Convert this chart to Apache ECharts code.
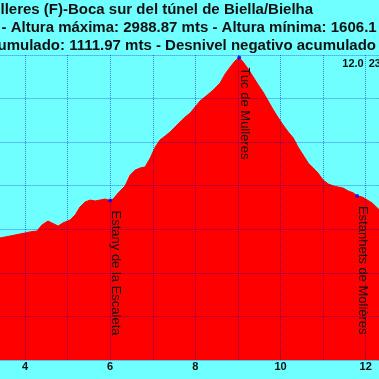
<!DOCTYPE html>
<html><head><meta charset="utf-8">
<script src="https://cdn.jsdelivr.net/npm/echarts@6/dist/echarts.min.js"></script>
<style>html,body{margin:0;padding:0;background:#70ffff;overflow:hidden;width:379px;height:379px;position:relative}#c{position:absolute;left:-40px;top:0;width:460px;height:379px}</style>
</head><body><div id="c"></div>
<script>
// Distance along route (km)
const distanceKm = [3.20,3.41,3.65,4.00,4.12,4.28,4.40,4.54,4.63,4.78,4.89,5.06,5.18,5.29,5.41,5.53,5.65,5.76,5.88,6.00,6.07,6.19,6.35,6.47,6.59,6.70,6.82,6.94,7.06,7.17,7.29,7.41,7.52,7.64,7.76,7.88,8.11,8.28,8.42,8.58,8.70,8.82,8.93,9.03,9.12,9.24,9.36,9.48,9.59,9.71,9.83,9.95,10.06,10.18,10.30,10.41,10.53,10.65,10.77,10.88,11.00,11.12,11.24,11.35,11.47,11.59,11.71,11.80,11.92,12.04,12.15,12.32,12.50];
// Elevation (m)
const elevationM = [2150,2160,2169,2183,2188,2192,2220,2238,2229,2215,2229,2243,2266,2302,2325,2334,2330,2334,2339,2332,2339,2367,2399,2449,2472,2481,2486,2527,2578,2610,2628,2647,2669,2692,2715,2734,2789,2816,2839,2871,2913,2945,2972,2988.87,2968,2936,2899,2862,2830,2789,2748,2711,2679,2647,2619,2578,2541,2504,2481,2458,2426,2408,2399,2394,2389,2376,2367,2353,2348,2334,2321,2289,2260];
// Waypoints
const waypointNames = ['Estany de la Escaleta','Tuc de Mulleres','Estanhets de Molières'];
const waypointKm = [6.00, 9.03, 11.80];
const waypointElev = [2332, 2988.87, 2353];
// Axis settings / tick labels
const xMin = 3, xMax = 13, xStep = 1;
const xLabelEvery = 2;
const yMin = 1600, yMax = 3000, yStep = 200;
// Title lines (clipped by the frame)
const titleLine1 = 'Mulleres (F)-Boca sur del túnel de Biella/Bielha';
const titleLine1Hidden = 'Mu';
const titleLine2 = '- Altura máxima: 2988.87 mts - Altura mínima: 1606.1';
const titleLine3 = 'Desnivel positivo acumulado: 1111.97 mts - Desnivel negativo acumulado';
const titleLine3Hidden = 'Desnivel positivo ac';
// Cursor readout
const cursorKm = 12.0;
const cursorKmLabel = '12.0';
const cursorElevLabel = '2338';

const OFF = 40; // chart canvas is shifted 40px left of the frame
const FONT = "'Liberation Sans', Arial, sans-serif";
const chart = echarts.init(document.getElementById('c'), null, {renderer:'canvas'});
const gridLine = {show:true, lineStyle:{color:'rgba(0,0,210,0.5)', type:'dotted', width:1}};
chart.setOption({
  animation:false,
  backgroundColor:'#70ffff',
  grid:{left:22.4, right:11.7, top:55, bottom:19, containLabel:false},
  xAxis:{type:'value', min:xMin, max:xMax, interval:xStep, z:5,
    axisLine:{show:false}, axisTick:{show:false}, splitLine:gridLine,
    axisLabel:{margin:1, color:'#111', fontWeight:'bold', fontSize:11, fontFamily:FONT,
      formatter:v=> (Math.round(v)%xLabelEvery===0 ? String(Math.round(v)) : '')}},
  yAxis:{type:'value', min:yMin, max:yMax, interval:yStep, z:5,
    axisLine:{show:false}, axisTick:{show:false}, axisLabel:{show:false}, splitLine:gridLine},
  series:[
    {type:'line', data:distanceKm.map((d,i)=>[d,elevationM[i]]), showSymbol:false, smooth:false,
      lineStyle:{color:'#ff0000', width:1}, areaStyle:{color:'#ff0000', opacity:1}, z:2},
    {type:'scatter', data:waypointKm.map((d,i)=>[d,waypointElev[i]]), symbolSize:4,
      itemStyle:{color:'#0000ff'}, z:6}
  ]
});

const ctx = document.createElement('canvas').getContext('2d');
function w(txt, font){ ctx.font = font; return ctx.measureText(txt).width; }
const tFont = 'bold 15px ' + FONT;
const els = [];
els.push({type:'text', x: OFF + 0.5 - w(titleLine1Hidden, tFont), y:10, style:{text:titleLine1, font:tFont, fill:'#111', align:'left', verticalAlign:'middle'}, z:20});
els.push({type:'text', x: OFF + 1.5, y:28, style:{text:titleLine2, font:tFont, fill:'#111', align:'left', verticalAlign:'middle'}, z:20});
els.push({type:'text', x: OFF - 2.5 - w(titleLine3Hidden, tFont), y:46, style:{text:titleLine3, font:tFont, fill:'#111', align:'left', verticalAlign:'middle'}, z:20});

waypointNames.forEach((name,i)=>{
  const p = chart.convertToPixel({gridIndex:0}, [waypointKm[i], waypointElev[i]]);
  els.push({type:'text', x:p[0]-1.5, y:p[1]+10, rotation:-Math.PI/2,
    style:{text:name, font:'13px '+FONT, fill:'#111', align:'left', verticalAlign:'bottom'}, z:20});
});
const cp = chart.convertToPixel({gridIndex:0}, [cursorKm, yMax]);
els.push({type:'text', x:cp[0]-2, y:cp[1]+3, style:{text:cursorKmLabel, font:'bold 11px '+FONT, fill:'#111', align:'right', verticalAlign:'top'}, z:20});
els.push({type:'text', x:cp[0]+3, y:cp[1]+3, style:{text:cursorElevLabel, font:'bold 11px '+FONT, fill:'#111', align:'left', verticalAlign:'top'}, z:20});
chart.setOption({graphic:els});
</script></body></html>
